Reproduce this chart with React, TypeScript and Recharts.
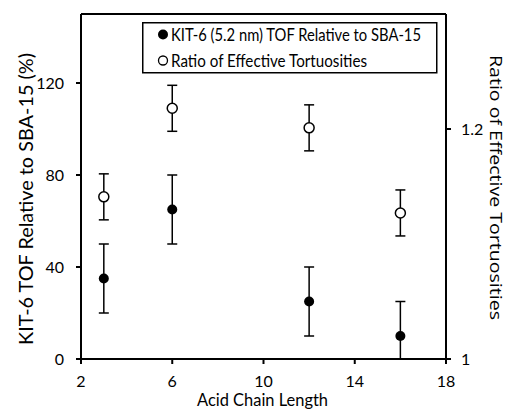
import { ScatterChart, Scatter, XAxis, YAxis, ErrorBar, Legend, ReferenceLine } from "recharts";

const chainLength = [3, 6, 12, 16];
const kitTof = [35, 65, 25, 10];
const kitTofErr = [[15, 15], [15, 15], [15, 15], [10, 15]];
const tortRatio = [1.141, 1.218, 1.201, 1.127];
const tortErr = [0.02, 0.02, 0.02, 0.02];

const xTicks = [2, 6, 10, 14, 18];
const leftTicks = [0, 40, 80, 120];
const rightTicks = [1, 1.2];

const kitName = "KIT-6 (5.2 nm) TOF Relative to SBA-15";
const tortName = "Ratio of Effective Tortuosities";

const FONT = "Lato, 'Open Sans', sans-serif";

const kitData = chainLength.map((x, i) => ({ x, y: kitTof[i], err: kitTofErr[i] }));
const tortData = chainLength.map((x, i) => ({ x, y: tortRatio[i], err: tortErr[i] }));

const FilledDot = (p: any) => <circle cx={p.cx} cy={p.cy} r={5} fill="#000" />;
const OpenDot = (p: any) => <circle cx={p.cx} cy={p.cy} r={5} fill="#fff" stroke="#000" strokeWidth={1.5} />;

function LegendBox() {
  return (
    <svg width={296} height={52} style={{ display: "block", overflow: "visible" }}>
      <rect x={0.75} y={0.75} width={294} height={50} fill="#fff" stroke="#000" strokeWidth={1.5} />
      <circle cx={21} cy={12.5} r={5} fill="#000" />
      <text x={29} y={19} fontSize={18} fontFamily={FONT} fill="#000" textLength={250} lengthAdjust="spacingAndGlyphs">
        {kitName}
      </text>
      <circle cx={21} cy={38.5} r={4.5} fill="#fff" stroke="#000" strokeWidth={1.3} />
      <text x={29} y={45} fontSize={18} fontFamily={FONT} fill="#000" textLength={196} lengthAdjust="spacingAndGlyphs">
        {tortName}
      </text>
    </svg>
  );
}

export default function App() {
  return (
    <div style={{ position: "absolute", left: 0, top: 0, background: "#fff" }}>
      <ScatterChart width={508} height={409} margin={{ top: 14, right: 0, bottom: 20, left: 0 }}>
        <XAxis
          type="number"
          dataKey="x"
          domain={[2, 18]}
          ticks={xTicks}
          tickSize={5}
          tickMargin={12}
          height={30}
          stroke="#000"
          strokeWidth={2}
          tick={{ fill: "#000", fontSize: 16, fontFamily: FONT }}
          label={{
            content: () => (
              <text
                x={197}
                y={406}
                fontSize={18}
                fontFamily={FONT}
                fill="#000"
                textLength={131}
                lengthAdjust="spacingAndGlyphs"
              >
                Acid Chain Length
              </text>
            ),
          }}
        />
        <YAxis
          yAxisId="left"
          type="number"
          dataKey="y"
          domain={[0, 150]}
          ticks={leftTicks}
          width={81}
          tickSize={5}
          tickMargin={12}
          stroke="#000"
          strokeWidth={2}
          tick={{ fill: "#000", fontSize: 16, fontFamily: FONT }}
          label={{
            content: () => (
              <text
                x={0}
                y={0}
                transform="translate(33,345) rotate(-90)"
                fontSize={19}
                fontFamily={FONT}
                fill="#000"
                textLength={292}
                lengthAdjust="spacingAndGlyphs"
              >
                KIT-6 TOF Relative to SBA-15 (%)
              </text>
            ),
          }}
        />
        <YAxis
          yAxisId="right"
          orientation="right"
          type="number"
          dataKey="y"
          domain={[1, 1.3]}
          ticks={rightTicks}
          width={62}
          tickSize={5}
          tickMargin={10}
          stroke="#000"
          strokeWidth={2}
          tick={{ fill: "#000", fontSize: 16, fontFamily: FONT }}
          label={{
            content: () => (
              <text
                x={0}
                y={0}
                transform="translate(490,55) rotate(90)"
                fontSize={17}
                fontFamily="'Open Sans', sans-serif"
                fill="#000"
                textLength={265}
                lengthAdjust="spacingAndGlyphs"
              >
                Ratio of Effective Tortuosities
              </text>
            ),
          }}
        />
        <ReferenceLine yAxisId="left" y={150} stroke="#000" strokeWidth={2} />
        <Legend
          layout="vertical"
          align="center"
          verticalAlign="middle"
          content={() => <LegendBox />}
          wrapperStyle={{ top: 22, left: 142, width: 296, height: 52, overflow: "visible" }}
        />
        <Scatter name={kitName} yAxisId="left" data={kitData} shape={FilledDot} isAnimationActive={false}>
          <ErrorBar dataKey="err" direction="y" width={5} stroke="#000" strokeWidth={1.5} isAnimationActive={false} />
        </Scatter>
        <Scatter name={tortName} yAxisId="right" data={tortData} shape={OpenDot} isAnimationActive={false}>
          <ErrorBar dataKey="err" direction="y" width={5} stroke="#000" strokeWidth={1.5} isAnimationActive={false} />
        </Scatter>
      </ScatterChart>
    </div>
  );
}
